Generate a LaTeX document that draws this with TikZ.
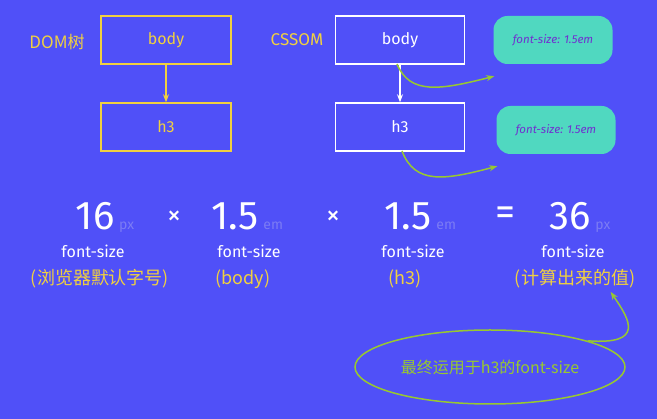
\documentclass[tikz,border=0pt]{standalone}
\usepackage{fontspec}
\setmainfont{Fira Sans}
\newfontfamily\cjk{Noto Sans CJK SC}
\usetikzlibrary{arrows.meta,shapes.geometric}
\definecolor{bg}{HTML}{5050F8}
\definecolor{yel}{HTML}{F0D040}
\definecolor{teal}{HTML}{50D8C0}
\definecolor{grn}{HTML}{98C830}
\definecolor{unit}{HTML}{7C7CF4}
\definecolor{purp}{HTML}{7030D0}
\begin{document}
\begin{tikzpicture}[x=1pt,y=-1pt,
  ybox/.style={draw=yel,line width=1.5pt,minimum width=130pt,minimum height=48pt,text=yel,font=\fontsize{16}{16}\selectfont},
  wbox/.style={draw=white,line width=1.5pt,minimum width=129pt,minimum height=48pt,text=white,font=\fontsize{16}{16}\selectfont},
  tbox/.style={fill=teal,rounded corners=14pt,minimum width=119pt,minimum height=48pt,text=purp,font=\fontsize{11.5}{12}\selectfont\itshape},
  ga/.style={draw=grn,line width=1.5pt,-{Stealth[length=8pt]}},
  big/.style={text=white,font=\fontsize{40}{40}\selectfont},
  un/.style={text=unit,font=\fontsize{14}{14}\selectfont},
  fs/.style={text=white,font=\fontsize{16}{16}\selectfont},
  cn/.style={text=yel,font=\fontsize{18}{18}\selectfont\cjk}]
\fill[bg] (0,0) rectangle (657,419);
\useasboundingbox (0,0) rectangle (657,419);
\node[text=yel,font=\fontsize{17}{17}\selectfont\cjk] (dl) at (57,42) {DOM树};
\node[ybox] (db) at (166,40) {body};
\node[ybox] (dh) at (166,127) {h3};
\draw[draw=yel,line width=1.2pt,-{Stealth[length=8pt]}] (db) -- (dh);
\node[text=yel,font=\fontsize{17}{17}\selectfont] (cl) at (297,40) {CSSOM};
\node[wbox] (cb) at (400,40) {body};
\node[wbox] (ch) at (400,127) {h3};
\draw[draw=white,line width=1.2pt,-{Stealth[length=8pt]}] (cb) -- (ch);
\node[tbox] (t1) at (553,40) {font-size: 1.5em};
\node[tbox] (t2) at (556,130) {font-size: 1.5em};
\coordinate (s1) at (397,64);
\coordinate (s2) at (402,151);
\draw[ga] (s1) .. controls (410,95) and (440,90) .. ([xshift=1pt,yshift=-12pt]t1.south west);
\draw[ga] (s2) .. controls (415,185) and (445,180) .. ([xshift=1pt,yshift=-12pt]t2.south west);
\node[big] (n1) at (95,216) {16};
\node[un,anchor=base west,inner sep=1pt] (u1) at (n1.base east) {px};
\node[big] (x1) at (174,218) {\fontsize{28}{28}\selectfont×};
\node[big] (n2) at (235,216) {1.5};
\node[un,anchor=base west,inner sep=1pt] (u2) at (n2.base east) {em};
\node[big] (x2) at (333,218) {\fontsize{28}{28}\selectfont×};
\node[big] (n3) at (408,216) {1.5};
\node[un,anchor=base west,inner sep=1pt] (u3) at (n3.base east) {em};
\node[big] (eq) at (505,216) {=};
\node[big] (n4) at (570,216) {36};
\node[un,anchor=base west,inner sep=1pt] (u4) at (n4.base east) {px};
\node[fs] (f1) at (93,251) {font-size};
\node[fs] (f2) at (249,251) {font-size};
\node[fs] (f3) at (413,251) {font-size};
\node[fs] (f4) at (573,251) {font-size};
\node[cn] (c1) at (100,279) {(浏览器默认字号)};
\node[cn] (c2) at (243,279) {(body)};
\node[cn] (c3) at (405,279) {(h3)};
\node[cn] (c4) at (575,279) {(计算出来的值)};
\node[draw=grn,line width=1.5pt,ellipse,minimum width=270pt,minimum height=74pt,text=grn,font=\fontsize{16}{16}\selectfont\cjk,inner sep=0pt] (el) at (490,367) {最终运用于h3的\textit{font-size}};
\draw[ga] (el.15) .. controls (645,345) and (630,320) .. ([xshift=-28pt]c4.south east);
\end{tikzpicture}
\end{document}
